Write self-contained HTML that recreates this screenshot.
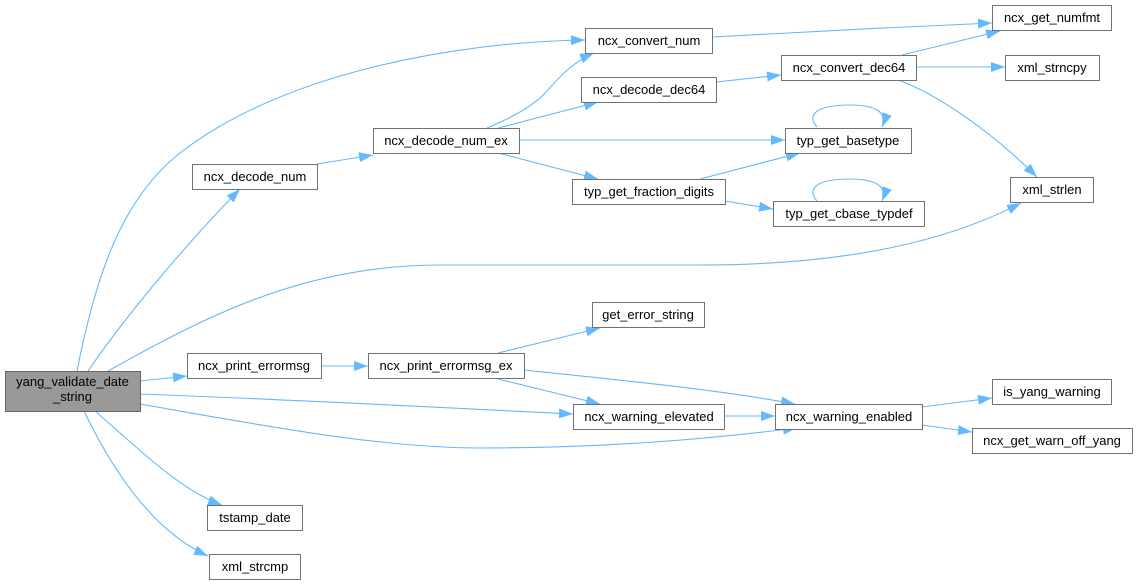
<!DOCTYPE html>
<html><head><meta charset="utf-8"><style>
html,body{margin:0;padding:0;background:#fff;}
svg{display:block;}
text{font-family:"Liberation Sans",Arial,sans-serif;font-size:13px;fill:#000;text-anchor:middle;}
.n{fill:#fff;stroke:#707070;stroke-width:1;}
.e{fill:none;stroke:#63b8ff;stroke-width:1.1;}
</style></head><body>
<svg width="1137" height="585" viewBox="0 0 1137 585" xmlns="http://www.w3.org/2000/svg">
<defs>
<marker id="a" viewBox="0 0 14 10" refX="14" refY="5" markerWidth="14" markerHeight="10" markerUnits="userSpaceOnUse" orient="auto">
<path d="M0,0 L14,5 L0,10 z" fill="#63b8ff"/>
</marker>
</defs>
<g class="e" marker-end="url(#a)">
<path d="M77,371 C95,280 120,200 180,153 C280,75 450,42 585,40"/>
<path d="M88,371 C130,310 190,240 240,189"/>
<path d="M108,371 C200,320 300,265 440,265 L700,265 C850,265 950,240 1021,203"/>
<path d="M140,381 L187,376"/>
<path d="M140,394 C300,400 450,408 573,414"/>
<path d="M140,404 C260,425 380,448 480,448 C600,448 700,440 797,428"/>
<path d="M95,411 C140,450 180,490 222,505"/>
<path d="M84,411 C110,465 150,530 208,556"/>
<path d="M317,164 L373,155"/>
<path d="M487,128 C515,116 535,105 548,90 C562,74 575,61 594,53"/>
<path d="M498,128 L598,102"/>
<path d="M519,140 L785,140"/>
<path d="M498,153 L598,179"/>
<path d="M712,37 C800,32 900,27 992,23"/>
<path d="M716,82 L781,75"/>
<path d="M902,55 L1000,31"/>
<path d="M916,67 L1005,67"/>
<path d="M898,80 C935,93 990,130 1037,177"/>
<path d="M817,127 C805,113 820,105 850,105 C875,105 888,112 882,127"/>
<path d="M817,201 C805,187 820,179 850,179 C875,179 888,186 882,201"/>
<path d="M700,179 L800,153"/>
<path d="M725,201 L773,209"/>
<path d="M321,366 L368,366"/>
<path d="M498,353 L600,328"/>
<path d="M498,379 L600,404"/>
<path d="M524,370 C620,380 720,390 795,404"/>
<path d="M724,416 L775,416"/>
<path d="M922,407 L992,398"/>
<path d="M922,425 L972,432"/>
</g>
<g>
<rect x="5.5" y="371.5" width="135" height="40" fill="#999" stroke="#666"/>
<text x="72.5" y="386">yang_validate_date</text>
<text x="72.5" y="401">_string</text>

<rect class="n" x="192.5" y="164.5" width="125" height="25"/><text x="255" y="181">ncx_decode_num</text>
<rect class="n" x="373.5" y="128.5" width="146" height="25"/><text x="446" y="145">ncx_decode_num_ex</text>
<rect class="n" x="585.5" y="28.5" width="127" height="25"/><text x="649" y="45">ncx_convert_num</text>
<rect class="n" x="581.5" y="77.5" width="135" height="25"/><text x="649" y="94">ncx_decode_dec64</text>
<rect class="n" x="572.5" y="179.5" width="153" height="25"/><text x="649" y="196">typ_get_fraction_digits</text>
<rect class="n" x="992.5" y="5.5" width="119" height="25"/><text x="1052" y="22">ncx_get_numfmt</text>
<rect class="n" x="781.5" y="55.5" width="135" height="25"/><text x="849" y="72">ncx_convert_dec64</text>
<rect class="n" x="1005.5" y="55.5" width="94" height="25"/><text x="1052" y="72">xml_strncpy</text>
<rect class="n" x="785.5" y="128.5" width="126" height="25"/><text x="848" y="145">typ_get_basetype</text>
<rect class="n" x="1010.5" y="177.5" width="83" height="25"/><text x="1052" y="194">xml_strlen</text>
<rect class="n" x="773.5" y="201.5" width="151" height="25"/><text x="849" y="218">typ_get_cbase_typdef</text>
<rect class="n" x="187.5" y="353.5" width="134" height="25"/><text x="254" y="370">ncx_print_errormsg</text>
<rect class="n" x="368.5" y="353.5" width="156" height="25"/><text x="446" y="370">ncx_print_errormsg_ex</text>
<rect class="n" x="592.5" y="302.5" width="112" height="25"/><text x="648" y="319">get_error_string</text>
<rect class="n" x="573.5" y="404.5" width="151" height="25"/><text x="649" y="421">ncx_warning_elevated</text>
<rect class="n" x="775.5" y="404.5" width="147" height="25"/><text x="849" y="421">ncx_warning_enabled</text>
<rect class="n" x="992.5" y="379.5" width="119" height="25"/><text x="1052" y="396">is_yang_warning</text>
<rect class="n" x="972.5" y="428.5" width="160" height="25"/><text x="1052" y="445">ncx_get_warn_off_yang</text>
<rect class="n" x="207.5" y="505.5" width="95" height="25"/><text x="255" y="522">tstamp_date</text>
<rect class="n" x="209.5" y="554.5" width="91" height="25"/><text x="255" y="571">xml_strcmp</text>
</g>
</svg>
</body></html>
